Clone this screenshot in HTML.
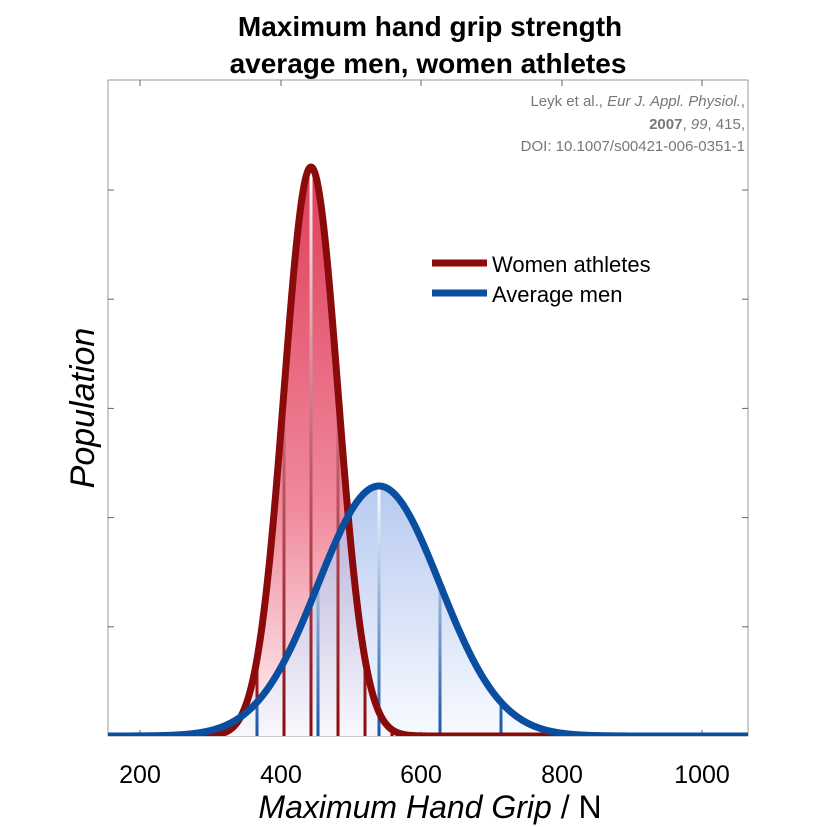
<!DOCTYPE html>
<html><head><meta charset="utf-8"><style>
html,body{margin:0;padding:0;background:#fff}
svg{display:block;font-family:"Liberation Sans","DejaVu Sans",sans-serif}
</style></head><body>
<svg id="s" width="827" height="827" viewBox="0 0 827 827" xmlns="http://www.w3.org/2000/svg">
<defs>
<linearGradient id="gr" x1="0" y1="0" x2="0" y2="1" gradientUnits="userSpaceOnUse" gradientTransform="" >
</linearGradient>
<linearGradient id="rf" gradientUnits="userSpaceOnUse" x1="0" y1="167" x2="0" y2="736">
<stop offset="0" stop-color="#df3d5a"/><stop offset="0.6" stop-color="#f08a9c"/><stop offset="1" stop-color="#fff4f6"/></linearGradient>
<linearGradient id="bf" gradientUnits="userSpaceOnUse" x1="0" y1="486" x2="0" y2="736">
<stop offset="0" stop-color="#9fb8ec"/><stop offset="1" stop-color="#f6f9ff"/></linearGradient>
<linearGradient id="rl" gradientUnits="userSpaceOnUse" x1="0" y1="167" x2="0" y2="736">
<stop offset="0" stop-color="#ffffff"/><stop offset="0.5" stop-color="#c06070"/><stop offset="1" stop-color="#8b0a0a"/></linearGradient>
<linearGradient id="bl" gradientUnits="userSpaceOnUse" x1="0" y1="486" x2="0" y2="736">
<stop offset="0" stop-color="#ffffff"/><stop offset="1" stop-color="#1555a8"/></linearGradient>
<clipPath id="cp"><rect x="108" y="80" width="640" height="656"/></clipPath>
</defs>
<text x="430" y="36" text-anchor="middle" font-size="28" font-weight="bold" fill="#000">Maximum hand grip strength</text>
<text x="428" y="73" text-anchor="middle" font-size="28" font-weight="bold" fill="#000">average men, women athletes</text>
<rect x="108" y="80" width="640" height="656" fill="none" stroke="#999" stroke-width="1"/>
<g id="ticks" stroke="#666" stroke-width="1"></g>
<g id="plot" clip-path="url(#cp)"></g>
<g fill="#777" font-size="15" text-anchor="end">
<text x="745" y="106">Leyk et al., <tspan font-style="italic">Eur J. Appl. Physiol.</tspan>,</text>
<text x="745" y="129"><tspan font-weight="bold">2007</tspan>, <tspan font-style="italic">99</tspan>, 415,</text>
<text x="745" y="151">DOI: 10.1007/s00421-006-0351-1</text>
</g>
<line x1="432" y1="263" x2="487" y2="263" stroke="#8b0a0a" stroke-width="7"/>
<line x1="432" y1="293" x2="487" y2="293" stroke="#0a4ea0" stroke-width="7"/>
<text x="492" y="272" font-size="22" fill="#000">Women athletes</text>
<text x="492" y="302" font-size="22" fill="#000">Average men</text>
<g font-size="25" fill="#000" text-anchor="middle">
<text x="140" y="783">200</text><text x="281" y="783">400</text><text x="421" y="783">600</text><text x="562" y="783">800</text><text x="702" y="783">1000</text>
</g>
<text x="430" y="818" text-anchor="middle" font-size="32" fill="#000"><tspan font-style="italic">Maximum Hand Grip</tspan> / N</text>
<text transform="translate(94,408) rotate(-90)" text-anchor="middle" font-size="34" font-style="italic" fill="#000">Population</text>
</svg>
<script>
const NS="http://www.w3.org/2000/svg";
const plot=document.getElementById('plot'),tk=document.getElementById('ticks');
function el(t,a,p){const e=document.createElementNS(NS,t);for(const k in a)e.setAttribute(k,a[k]);p.appendChild(e);return e;}
for(const x of [140,281,421,562,702]){el('line',{x1:x,y1:736,x2:x,y2:730},tk);el('line',{x1:x,y1:80,x2:x,y2:86},tk);}
for(let i=1;i<6;i++){const y=736-109.2*i;el('line',{x1:108,y1:y,x2:114,y2:y},tk);el('line',{x1:748,y1:y,x2:742,y2:y},tk);}
const B=736;
function curve(mu,sg,h){let pts=[];for(let x=100;x<=756;x+=1){pts.push([x,B-h*Math.exp(-0.5*((x-mu)/sg)**2)]);}return pts;}
function path(p){return 'M'+p.map(q=>q[0]+','+q[1].toFixed(2)).join('L');}
const R={mu:311,sg:27,h:569},Bl={mu:379,sg:61,h:250};
const rp=curve(R.mu,R.sg,R.h),bp=curve(Bl.mu,Bl.sg,Bl.h);
el('path',{d:path(rp)+'L756,736L100,736Z',fill:'url(#rf)'},plot);
el('path',{d:path(bp)+'L756,736L100,736Z',fill:'url(#bf)','fill-opacity':0.75},plot);
function vlines(c,col,ks){for(const k of ks){const x=c.mu+k*c.sg;const y=B-c.h*Math.exp(-0.5*k*k);el('line',{x1:x,y1:y,x2:x,y2:B,stroke:col,'stroke-width':3},plot);}}
vlines(R,'url(#rl)',[-2,-1,0,1,2,3]);
vlines(Bl,'url(#bl)',[-2,-1,0,1,2]);
el('path',{d:path(rp),fill:'none',stroke:'#8b0a0a','stroke-width':7,'stroke-linejoin':'round'},plot);
el('path',{d:path(bp),fill:'none',stroke:'#0a4ea0','stroke-width':7,'stroke-linejoin':'round'},plot);
</script>
</body></html>
